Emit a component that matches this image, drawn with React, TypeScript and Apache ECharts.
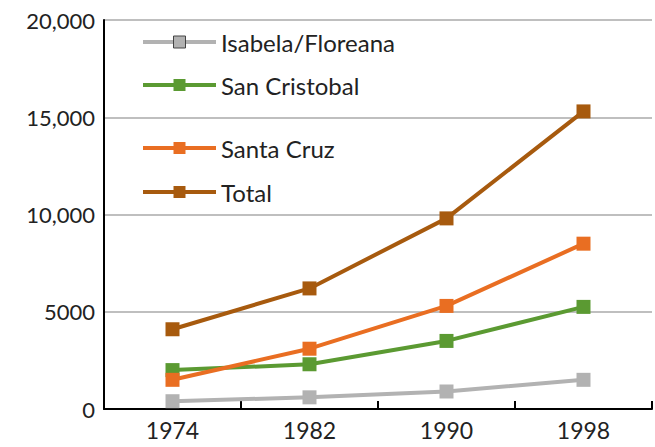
import React, { useEffect, useRef } from "react";
import * as echarts from "echarts";

const years = ["1974", "1982", "1990", "1998"];
const isabela = [400, 600, 900, 1500];
const sanCristobal = [2000, 2300, 3500, 5250];
const santaCruz = [1500, 3100, 5300, 8500];
const total = [4100, 6200, 9800, 15300];
const seriesNames = ["Isabela/Floreana", "San Cristobal", "Santa Cruz", "Total"];
const colors = ["#b2b2b2", "#5b9a32", "#e96e22", "#a75a0e"];
const legendCenters = [42, 85, 148, 192];

export default function App() {
  const ref = useRef<HTMLDivElement>(null);
  useEffect(() => {
    if (!ref.current) return;
    const chart = echarts.init(ref.current, null, { renderer: "svg" });
    const data = [isabela, sanCristobal, santaCruz, total];
    const font = "Lato, 'Noto Sans', sans-serif";
    chart.setOption({
      animation: false,
      textStyle: { fontFamily: font },
      grid: { left: 104, right: 3, top: 20, bottom: 38 },
      legend: seriesNames.map((n, i) => ({
        data: [
          i === 0
            ? { name: n, itemStyle: { borderColor: "#444", borderWidth: 1 } }
            : { name: n },
        ],
        orient: "vertical",
        left: 141,
        top: legendCenters[i] - 14,
        itemWidth: 73,
        itemHeight: 15,
        itemGap: 8,
        lineStyle: { width: 4 },
        textStyle: { fontSize: 24, color: "#222", fontFamily: font, lineHeight: 28 },
        padding: 0,
        selectedMode: false,
      })),
      xAxis: {
        type: "category",
        data: years,
        boundaryGap: true,
        axisLine: { lineStyle: { color: "#000", width: 2 } },
        axisTick: { show: true, inside: true, length: 8, lineStyle: { color: "#000", width: 2 } },
        axisLabel: { fontSize: 23, color: "#222", margin: 9, fontFamily: font },
      },
      yAxis: {
        type: "value",
        min: 0,
        max: 20000,
        interval: 5000,
        axisLine: { show: true, lineStyle: { color: "#000", width: 2 } },
        axisTick: { show: false },
        splitLine: { lineStyle: { color: "#bfbfbf", width: 2 } },
        axisLabel: {
          fontSize: 22,
          color: "#222",
          margin: 9,
          fontFamily: font,
          formatter: (v: number) => (v >= 10000 ? v.toLocaleString("en-US") : String(v)),
        },
      },
      series: seriesNames.map((n, i) => ({
        name: n,
        type: "line",
        data: data[i],
        symbol: "rect",
        symbolSize: 14,
        color: colors[i],
        lineStyle: { width: 4, color: colors[i] },
        itemStyle: { color: colors[i] },
        z: 2 + i,
      })),
    });
    return () => chart.dispose();
  }, []);
  return <div ref={ref} style={{ width: 655, height: 447, position: "absolute", left: 0, top: 0 }} />;
}
